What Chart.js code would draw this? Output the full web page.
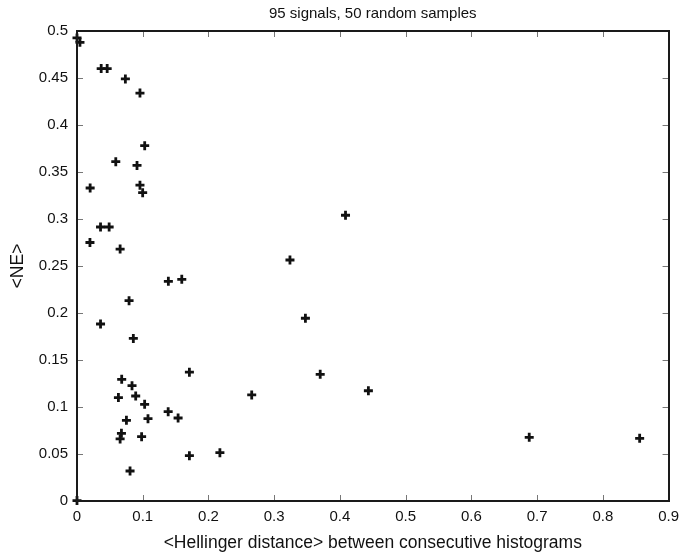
<!DOCTYPE html>
<html lang="en">
<head>
	<meta charset="UTF-8">
	<title>95 signals</title>
	<script src="https://cdn.jsdelivr.net/npm/chart.js@4.4.0/dist/chart.umd.min.js"></script>
	<style>
		body { margin: 0; background: #fff; }
		#wrap { width: 686px; height: 557px; }
	</style>
</head>
<body>
	<div id="wrap"><canvas id="myChart"></canvas></div>

	<script>
	// <Hellinger distance> per sample
	let hellinger = [0, 0.0045, 0.0368, 0.0459, 0.0736, 0.0958, 0.103, 0.059, 0.0913, 0.020, 0.0958, 0.0999,
		0.0358, 0.0489, 0.0197, 0.0656, 0.139, 0.1594, 0.0792, 0.0358, 0.0857,
		0.068, 0.0837, 0.063, 0.0893, 0.1029, 0.0752, 0.108, 0.1387, 0.1538, 0.171, 0.2658,
		0.0676, 0.0656, 0.0983, 0.171, 0.2174, 0.0807, 0,
		0.4085, 0.324, 0.3475, 0.370, 0.4433, 0.688, 0.856]
	// <NE> per sample
	let ne = [0.4926, 0.488, 0.460, 0.460, 0.449, 0.434, 0.378, 0.361, 0.357, 0.333, 0.336, 0.328,
		0.2915, 0.2915, 0.275, 0.268, 0.2337, 0.2358, 0.2131, 0.1883, 0.173,
		0.1294, 0.1227, 0.110, 0.1117, 0.1028, 0.0858, 0.0876, 0.095, 0.0883, 0.137, 0.1128,
		0.072, 0.066, 0.0684, 0.0482, 0.0514, 0.0319, 0.0005,
		0.304, 0.2564, 0.1944, 0.1348, 0.1173, 0.0677, 0.0667]

	let xTicks = [0, 0.1, 0.2, 0.3, 0.4, 0.5, 0.6, 0.7, 0.8, 0.9]
	let yTicks = [0, 0.05, 0.1, 0.15, 0.2, 0.25, 0.3, 0.35, 0.4, 0.45, 0.5]

	let points = hellinger.map((h, i) => ({ x: h, y: ne[i] }))

	// box round the plot and inward tick marks on all four sides
	let boxTicks = {
		id: 'boxTicks',
		afterDatasetsDraw(chart) {
			let c = chart.ctx
			let a = chart.chartArea
			let xs = chart.scales.x, ys = chart.scales.y
			c.save()
			c.strokeStyle = '#777'
			c.lineWidth = 1
			c.beginPath()
			xTicks.forEach(v => {
				let px = Math.round(xs.getPixelForValue(v)) + 0.5
				c.moveTo(px, a.bottom); c.lineTo(px, a.bottom - 6)
				c.moveTo(px, a.top); c.lineTo(px, a.top + 6)
			})
			yTicks.forEach(v => {
				let py = Math.round(ys.getPixelForValue(v)) + 0.5
				c.moveTo(a.left, py); c.lineTo(a.left + 6, py)
				c.moveTo(a.right, py); c.lineTo(a.right - 6, py)
			})
			c.stroke()
			c.strokeStyle = '#1a1a1a'
			c.lineWidth = 2
			c.strokeRect(Math.round(a.left), Math.round(a.top), Math.round(a.right - a.left), Math.round(a.bottom - a.top))
			c.restore()
		}
	}

	Chart.defaults.font.family = '"Liberation Sans", Arial, sans-serif'
	Chart.defaults.color = '#111'

	var chart = new Chart(document.getElementById('myChart'), {
		type: 'scatter',
		data: {
			datasets: [{
				data: points,
				pointStyle: 'cross',
				pointRadius: 4.5,
				pointBorderWidth: 2.8,
				borderColor: '#111',
				backgroundColor: '#111',
				clip: false
			}]
		},
		options: {
			responsive: true,
			maintainAspectRatio: false,
			animation: false,
			layout: { padding: { left: 0, right: 14, top: 0, bottom: 0 } },
			plugins: {
				legend: { display: false },
				tooltip: { enabled: false },
				title: {
					display: true,
					fullSize: false,
					text: '95 signals, 50 random samples',
					color: '#111',
					font: { size: 15, weight: 'normal' },
					padding: { top: 5, bottom: 8 }
				}
			},
			scales: {
				x: {
					type: 'linear',
					min: 0, max: 0.9,
					afterBuildTicks: s => { s.ticks = xTicks.map(v => ({ value: v })) },
					afterFit: s => { s.height = 56 },
					grid: { display: false, drawTicks: false },
					border: { display: false },
					ticks: { padding: 7, font: { size: 15 }, color: '#111', callback: v => String(v) },
					title: {
						display: true,
						text: '<Hellinger distance> between consecutive histograms',
						font: { size: 17.5 },
						color: '#111',
						padding: { top: 0, bottom: 3 }
					}
				},
				y: {
					type: 'linear',
					min: 0, max: 0.5,
					afterBuildTicks: s => { s.ticks = yTicks.map(v => ({ value: v })) },
					afterFit: s => { s.width = 77 },
					grid: { display: false, drawTicks: false },
					border: { display: false },
					ticks: { padding: 9, font: { size: 15 }, color: '#111', callback: v => String(v) },
					title: {
						display: true,
						text: '<NE>',
						font: { size: 17.5 },
						color: '#111',
						padding: { top: 8, bottom: 8 }
					}
				}
			}
		},
		plugins: [boxTicks]
	})
	</script>
</body>
</html>
